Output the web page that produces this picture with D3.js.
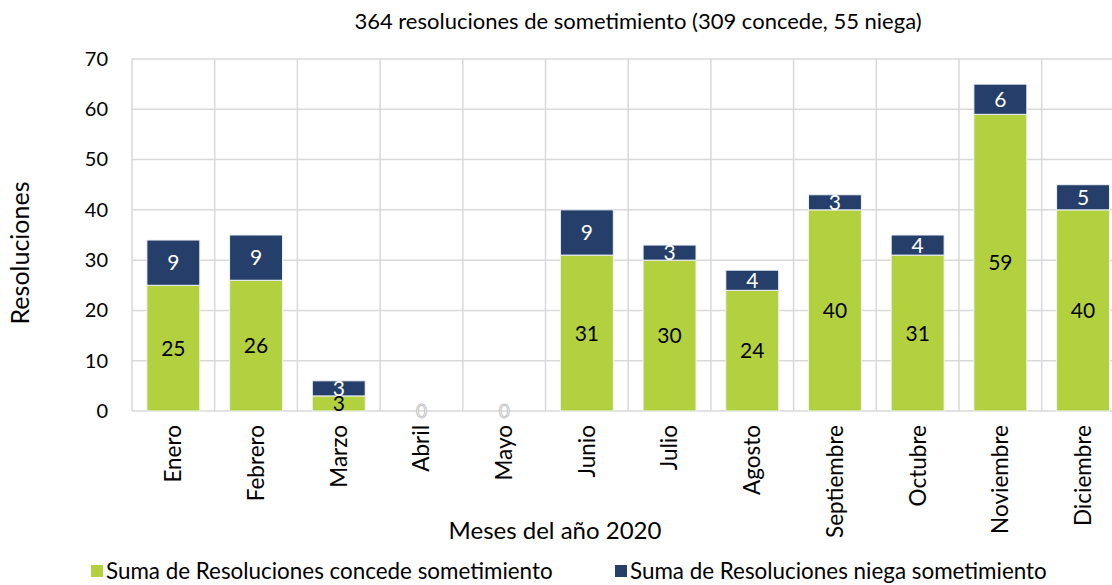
<!DOCTYPE html>
<html>
<head>
<meta charset="utf-8">
<script src="https://cdn.jsdelivr.net/npm/d3@7"></script>
<style>
  body { margin: 0; background: #fff; }
  svg { display: block; font-family: Lato, "Open Sans", sans-serif; }
</style>
</head>
<body>
<div id="chart"></div>
<script>
var months = ['Enero', 'Febrero', 'Marzo', 'Abril', 'Mayo', 'Junio', 'Julio', 'Agosto', 'Septiembre', 'Octubre', 'Noviembre', 'Diciembre']
var concede = [25, 26, 3, 0, 0, 31, 30, 24, 40, 31, 59, 40]
var niega = [9, 9, 3, 0, 0, 9, 3, 4, 3, 4, 6, 5]
var yTicks = [0, 10, 20, 30, 40, 50, 60, 70]
var seriesNames = ['Suma de Resoluciones concede sometimiento', 'Suma de Resoluciones niega sometimiento']
var colors = ['#b3d13f', '#263f6a']

var width = 1112, height = 585
var plotLeft = 132, plotBottom = 411, plotTop = 59
var step = 82.7

var svg = d3.select('#chart').append('svg')
  .attr('width', width)
  .attr('height', height)

var xScale = d3.scaleBand()
  .domain(months)
  .range([plotLeft, plotLeft + step * months.length])
  .paddingInner(0.36)
  .paddingOuter(0.18)

var yScale = d3.scaleLinear()
  .domain([0, 70])
  .range([plotBottom, plotTop])

// grid
svg.append('g').selectAll('line')
  .data(yTicks)
  .enter().append('line')
  .attr('x1', plotLeft).attr('x2', plotLeft + step * months.length)
  .attr('y1', d => yScale(d)).attr('y2', d => yScale(d))
  .attr('stroke', '#d9d9d9').attr('stroke-width', 1.5)

svg.append('g').selectAll('line')
  .data(d3.range(months.length + 1))
  .enter().append('line')
  .attr('x1', i => plotLeft + i * step).attr('x2', i => plotLeft + i * step)
  .attr('y1', yScale(70)).attr('y2', yScale(0))
  .attr('stroke', '#d9d9d9').attr('stroke-width', 1.5)

// y axis labels
var yAxis = d3.axisLeft(yScale).tickValues(yTicks).tickSize(0).tickPadding(24)
svg.append('g')
  .attr('transform', 'translate(' + plotLeft + ',0)')
  .call(yAxis)
  .call(g => g.select('.domain').remove())
  .selectAll('text')
  .style('font-size', '20px')
  .style('font-family', 'Lato, sans-serif')
  .attr('fill', '#000')

// x axis labels
var xAxis = d3.axisBottom(xScale).tickSize(0).tickPadding(0)
svg.append('g')
  .attr('transform', 'translate(0,' + plotBottom + ')')
  .call(xAxis)
  .call(g => g.select('.domain').remove())
  .selectAll('text')
  .attr('transform', 'rotate(-90)')
  .attr('x', -14)
  .attr('y', 0)
  .attr('dy', '0.35em')
  .style('text-anchor', 'end')
  .style('font-size', '22.5px')
  .style('font-family', 'Lato, sans-serif')
  .attr('fill', '#000')

// stacked bars
var rows = months.map((m, i) => ({ month: m, concede: concede[i], niega: niega[i] }))
var stack = d3.stack().keys(['concede', 'niega'])(rows)

var layers = svg.append('g').selectAll('g')
  .data(stack)
  .enter().append('g')
  .attr('fill', (d, i) => colors[i])

layers.selectAll('rect')
  .data(d => d.filter(p => p[1] - p[0] > 0))
  .enter().append('rect')
  .attr('x', d => xScale(d.data.month))
  .attr('width', xScale.bandwidth())
  .attr('y', d => yScale(d[1]))
  .attr('height', d => yScale(d[0]) - yScale(d[1]))
  .attr('stroke', '#eef3f8')
  .attr('stroke-width', 1)

// value labels
stack.forEach(function(layer, li) {
  svg.append('g').selectAll('text')
    .data(layer.filter(p => p[1] - p[0] > 0))
    .enter().append('text')
    .attr('x', d => xScale(d.data.month) + xScale.bandwidth() / 2)
    .attr('y', d => (yScale(d[0]) + yScale(d[1])) / 2)
    .attr('dy', '0.36em')
    .attr('text-anchor', 'middle')
    .style('font-size', '21px')
    .attr('fill', li === 0 ? '#000' : '#fff')
    .text(d => d[1] - d[0])
})

// zero labels (outlined)
svg.append('g').selectAll('text')
  .data(rows.filter(d => d.concede + d.niega === 0))
  .enter().append('text')
  .attr('x', d => xScale(d.month) + xScale.bandwidth() / 2)
  .attr('y', yScale(0))
  .attr('dy', '0.36em')
  .attr('text-anchor', 'middle')
  .style('font-size', '19px')
  .attr('fill', '#fff')
  .attr('stroke', '#c4c4c4')
  .attr('stroke-width', 1)
  .text('0')

// titles
svg.append('text')
  .attr('x', 638).attr('y', 29)
  .attr('text-anchor', 'middle')
  .style('font-size', '22px')
  .text('364 resoluciones de sometimiento (309 concede, 55 niega)')

svg.append('text')
  .attr('transform', 'translate(29,253) rotate(-90)')
  .attr('text-anchor', 'middle')
  .style('font-size', '25px')
  .text('Resoluciones')

svg.append('text')
  .attr('x', 555).attr('y', 539)
  .attr('text-anchor', 'middle')
  .style('font-size', '24px')
  .text('Meses del año 2020')

// legend
var legendX = [91, 615]
var legend = svg.append('g').selectAll('g')
  .data(seriesNames)
  .enter().append('g')
  .attr('transform', (d, i) => 'translate(' + legendX[i] + ',571)')

legend.append('rect')
  .attr('x', 0).attr('y', -6)
  .attr('width', 12).attr('height', 12)
  .attr('fill', (d, i) => colors[i])

legend.append('text')
  .attr('x', 15)
  .attr('dy', '0.35em')
  .style('font-size', '22.4px')
  .text(d => d)
</script>
</body>
</html>
